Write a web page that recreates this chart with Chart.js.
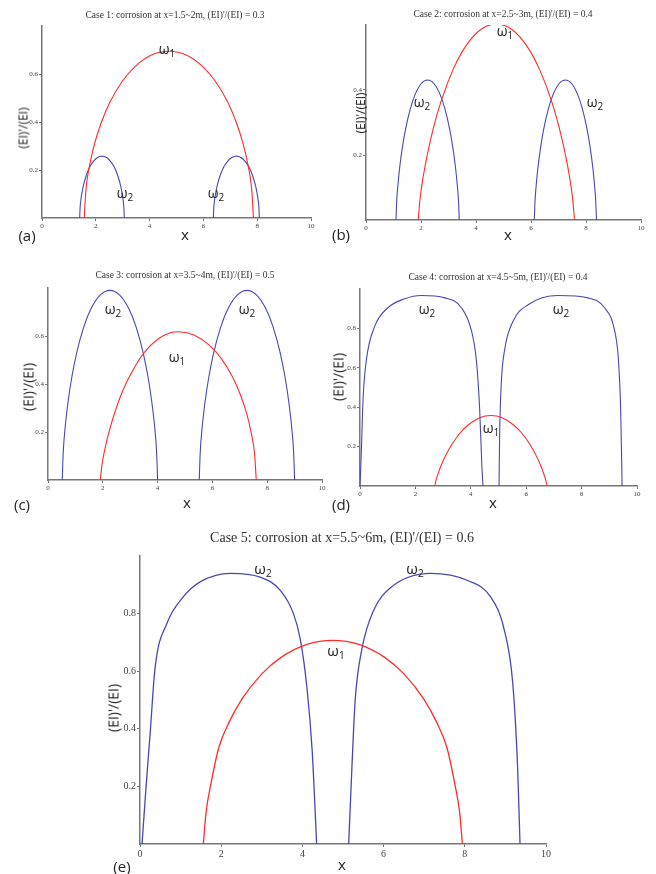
<!DOCTYPE html>
<html>
<head>
<meta charset="utf-8">
<script src="https://cdn.jsdelivr.net/npm/chart.js@4.4.1/dist/chart.umd.min.js"></script>
<style>
body { margin: 0; background: #fff; width: 656px; height: 874px; position: relative; overflow: hidden; }
canvas { position: absolute; }
.t { position: absolute; white-space: nowrap; transform: translate(-50%, -50%); color: #222; font-family: "Open Sans", sans-serif; }
.title { font-family: "Liberation Serif", serif; color: #333; }
.w sub { font-size: 10px; vertical-align: -3px; }
.yl { transform: translate(-50%, -50%) rotate(-90deg); }
</style>
</head>
<body>
<script>
// tick values
const xTicks = [0, 2, 4, 6, 8, 10];
const yTicksSmall = [0.2, 0.4, 0.6];
const yTicksB = [0.2, 0.4];
const yTicksBig = [0.2, 0.4, 0.6, 0.8];

const titles = [
  "Case 1: corrosion at x=1.5~2m, (EI)'/(EI) = 0.3",
  "Case 2: corrosion at x=2.5~3m, (EI)'/(EI) = 0.4",
  "Case 3: corrosion at x=3.5~4m, (EI)'/(EI) = 0.5",
  "Case 4: corrosion at x=4.5~5m, (EI)'/(EI) = 0.4",
  "Case 5: corrosion at x=5.5~6m, (EI)'/(EI) = 0.6"
];
const panelLetters = ['(a)', '(b)', '(c)', '(d)', '(e)'];

// case 1
const aW1 = [[1.57,0],[1.633,0.117],[1.759,0.213],[1.947,0.307],[2.199,0.396],[2.514,0.48],[2.985,0.57],[3.457,0.631],[4.086,0.68],[4.715,0.695],
  [5.344,0.68],[5.973,0.631],[6.445,0.57],[6.917,0.48],[7.231,0.396],[7.483,0.307],[7.671,0.213],[7.797,0.117],[7.86,0]];
const aW2L = [[1.40,0],[1.417,0.044],[1.45,0.079],[1.50,0.114],[1.566,0.147],[1.649,0.178],[1.774,0.212],[1.898,0.234],[2.064,0.252],[2.23,0.258],
  [2.396,0.252],[2.562,0.234],[2.687,0.212],[2.811,0.178],[2.894,0.147],[2.96,0.114],[3.01,0.079],[3.043,0.044],[3.06,0]];
const aW2R = [[6.37,0],[6.387,0.044],[6.421,0.079],[6.473,0.114],[6.541,0.147],[6.627,0.178],[6.755,0.212],[6.883,0.234],[7.054,0.252],[7.225,0.258],
  [7.396,0.252],[7.567,0.234],[7.695,0.212],[7.824,0.178],[7.909,0.147],[7.977,0.114],[8.029,0.079],[8.063,0.044],[8.08,0]];
// case 2
const bW1 = [[1.90,0],[1.957,0.059],[2.07,0.128],[2.241,0.206],[2.468,0.289],[2.752,0.371],[3.178,0.465],[3.604,0.532],[4.172,0.586],[4.74,0.603],
  [5.308,0.586],[5.876,0.532],[6.302,0.465],[6.728,0.371],[7.012,0.289],[7.239,0.206],[7.41,0.128],[7.523,0.059],[7.58,0]];
const bW2L = [[1.09,0],[1.113,0.053],[1.159,0.106],[1.228,0.164],[1.32,0.222],[1.435,0.278],[1.608,0.341],[1.78,0.385],[2.01,0.42],[2.24,0.431],
  [2.47,0.42],[2.70,0.385],[2.873,0.341],[3.045,0.278],[3.16,0.222],[3.252,0.164],[3.321,0.106],[3.367,0.053],[3.39,0]];
const bW2R = [[6.12,0],[6.143,0.053],[6.188,0.106],[6.256,0.164],[6.346,0.222],[6.459,0.278],[6.629,0.341],[6.798,0.385],[7.024,0.42],[7.25,0.431],
  [7.476,0.42],[7.702,0.385],[7.872,0.341],[8.041,0.278],[8.154,0.222],[8.244,0.164],[8.312,0.106],[8.357,0.053],[8.38,0]];
// case 3
const cW1 = [[1.91,0],[1.967,0.061],[2.081,0.132],[2.251,0.211],[2.479,0.296],[2.763,0.381],[3.19,0.476],[3.617,0.545],[4.186,0.60],[4.755,0.618],
  [5.324,0.604],[5.893,0.561],[6.32,0.507],[6.747,0.427],[7.031,0.352],[7.259,0.273],[7.429,0.189],[7.543,0.104],[7.6,0]];
const cW2L = [[0.52,0],[0.555,0.114],[0.624,0.217],[0.729,0.323],[0.868,0.428],[1.042,0.528],[1.303,0.637],[1.564,0.712],[1.912,0.771],[2.26,0.79],
  [2.608,0.771],[2.956,0.712],[3.217,0.637],[3.478,0.528],[3.652,0.428],[3.791,0.323],[3.896,0.217],[3.965,0.114],[4.0,0]];
const cW2R = [[5.52,0],[5.555,0.114],[5.624,0.217],[5.729,0.323],[5.868,0.428],[6.042,0.528],[6.303,0.637],[6.564,0.712],[6.912,0.771],[7.26,0.79],
  [7.608,0.771],[7.956,0.712],[8.217,0.637],[8.478,0.528],[8.652,0.428],[8.791,0.323],[8.896,0.217],[8.965,0.114],[9.0,0]];
// case 4
const dW1 = [[2.70,0],[2.74,0.027],[2.821,0.064],[2.943,0.109],[3.105,0.158],[3.308,0.209],[3.611,0.269],[3.915,0.311],[4.32,0.347],[4.725,0.358],
  [5.13,0.347],[5.535,0.311],[5.839,0.269],[6.143,0.209],[6.345,0.158],[6.507,0.109],[6.629,0.064],[6.71,0.027],[6.75,0]];
const dW2L = [[0,0],[0.05,0.18],[0.11,0.44],[0.23,0.64],[0.53,0.81],[1.01,0.905],[1.61,0.95],[2.21,0.967],[3.06,0.955],[3.66,0.905],[4.02,0.79],[4.20,0.64],[4.32,0.39],[4.40,0.10],[4.44,0]];
const dW2R = [[5.02,0],[5.04,0.25],[5.10,0.52],[5.22,0.69],[5.52,0.835],[6.07,0.92],[7.15,0.967],[8.23,0.955],[8.83,0.905],[9.19,0.79],[9.33,0.64],[9.41,0.39],[9.45,0.10],[9.46,0]];
// case 5
const eW1 = [[1.56,0],[1.624,0.106],[1.751,0.212],[1.943,0.336],[2.198,0.424],[2.517,0.505],[2.996,0.59],[3.474,0.648],[4.112,0.693],[4.75,0.707],
  [5.388,0.693],[6.026,0.648],[6.505,0.59],[6.983,0.505],[7.302,0.424],[7.557,0.336],[7.749,0.212],[7.876,0.106],[7.94,0]];
const eW2L = [[0.05,0],[0.15,0.2],[0.25,0.385],[0.37,0.61],[0.66,0.765],[1.06,0.857],[1.48,0.91],[2.22,0.94],[2.96,0.927],[3.46,0.88],[3.78,0.80],[3.95,0.71],[4.11,0.545],[4.24,0.326],[4.32,0.095],[4.35,0]];
const eW2R = [[5.14,0],[5.22,0.268],[5.30,0.50],[5.47,0.68],[5.75,0.81],[6.17,0.89],[7.16,0.94],[8.07,0.915],[8.64,0.857],[8.96,0.75],[9.18,0.56],[9.30,0.268],[9.36,0]];

const RED = '#ff2b2b';
const BLUE = '#4848b4';

// layout of each panel (plot area in page pixels)
const panels = [
  { area: [42, 26, 311, 218], ymax: 0.8, yt: yTicksSmall, fs: 7, tfs: 9.5, title: [175, 15], ylfs: 12,
    curves: [[aW1, RED], [aW2L, BLUE], [aW2R, BLUE]],
    w1: [[167, 49]], w2: [[125, 193], [216, 193]], letter: [27, 235], x: [185, 234], yl: [23, 128] },
  { area: [366, 25, 641, 220], ymax: 0.6, yt: yTicksB, fs: 7, tfs: 9.5, title: [503, 14], ylfs: 12,
    curves: [[bW1, RED], [bW2L, BLUE], [bW2R, BLUE]],
    w1: [[505, 31]], w2: [[422, 102], [595, 102]], letter: [341, 234], x: [508, 234], yl: [360, 113] },
  { area: [48, 288, 322, 480], ymax: 0.8, yt: yTicksSmall, fs: 7, tfs: 9.5, title: [185, 275], ylfs: 14,
    curves: [[cW1, RED], [cW2L, BLUE], [cW2R, BLUE]],
    w1: [[177, 357]], w2: [[113, 309], [247, 309]], letter: [22, 504], x: [187, 502], yl: [28, 387] },
  { area: [360, 289, 637, 486], ymax: 1.0, yt: yTicksBig, fs: 7, tfs: 9.5, title: [498, 277], ylfs: 14,
    curves: [[dW1, RED], [dW2L, BLUE], [dW2R, BLUE]],
    w1: [[491, 428]], w2: [[427, 309], [561, 309]], letter: [341, 504], x: [493, 502], yl: [338, 377] },
  { area: [140, 556, 546, 844], ymax: 1.0, yt: yTicksBig, fs: 10, tfs: 14, title: [342, 538], ylfs: 14,
    curves: [[eW1, RED], [eW2L, BLUE], [eW2R, BLUE]],
    w1: [[336, 651]], w2: [[263, 569], [415, 569]], letter: [122, 866], x: [342, 864], yl: [113, 708] }
];

function addText(html, pos, cls, size) {
  const d = document.createElement('div');
  d.className = 't ' + cls;
  d.innerHTML = html;
  d.style.left = pos[0] + 'px';
  d.style.top = pos[1] + 'px';
  if (size) d.style.fontSize = size + 'px';
  document.body.appendChild(d);
}

panels.forEach(function (p, i) {
  const axW = 30, axH = 16, padT = 8, padR = 10;
  const [l, t, r, b] = p.area;
  const canvas = document.createElement('canvas');
  canvas.width = (r - l) + axW + padR;
  canvas.height = (b - t) + padT + axH;
  canvas.style.left = (l - axW) + 'px';
  canvas.style.top = (t - padT) + 'px';
  document.body.appendChild(canvas);

  new Chart(canvas.getContext('2d'), {
    type: 'line',
    data: {
      datasets: p.curves.map(c => ({
        data: c[0].map(pt => ({ x: pt[0], y: pt[1] })),
        borderColor: c[1],
        borderWidth: i === 4 ? 1.3 : 1.1,
        pointRadius: 0,
        cubicInterpolationMode: 'monotone',
        fill: false
      }))
    },
    options: {
      responsive: false,
      animation: false,
      events: [],
      layout: { padding: { top: padT, right: padR, left: 0, bottom: 0 } },
      plugins: { legend: { display: false }, tooltip: { enabled: false } },
      scales: {
        x: {
          type: 'linear', min: 0, max: 10,
          afterBuildTicks: a => { a.ticks = xTicks.map(v => ({ value: v })); },
          afterFit: a => { a.height = axH; },
          grid: { drawOnChartArea: false, tickLength: 3, color: '#777' },
          border: { color: '#777', width: 1.5 },
          ticks: { font: { family: 'Liberation Serif', size: p.fs }, color: '#444', padding: 1, maxRotation: 0 }
        },
        y: {
          type: 'linear', min: 0, max: p.ymax,
          afterBuildTicks: a => { a.ticks = p.yt.map(v => ({ value: v })); },
          afterFit: a => { a.width = axW; },
          grid: { drawOnChartArea: false, tickLength: 3, color: '#777' },
          border: { color: '#777', width: 1.5 },
          ticks: { font: { family: 'Liberation Serif', size: p.fs }, color: '#444', padding: 1 }
        }
      }
    }
  });

  addText(titles[i], p.title, 'title', p.tfs);
  p.w1.forEach(pos => addText('ω<sub>1</sub>', pos, 'w', i === 4 ? 15 : 14));
  p.w2.forEach(pos => addText('ω<sub>2</sub>', pos, 'w', i === 4 ? 15 : 14));
  addText(panelLetters[i], p.letter, 'lab', 15);
  addText('x', p.x, 'lab', 15);
  addText("(EI)'/(EI)", p.yl, 'yl', p.ylfs);
});
</script>
</body>
</html>
